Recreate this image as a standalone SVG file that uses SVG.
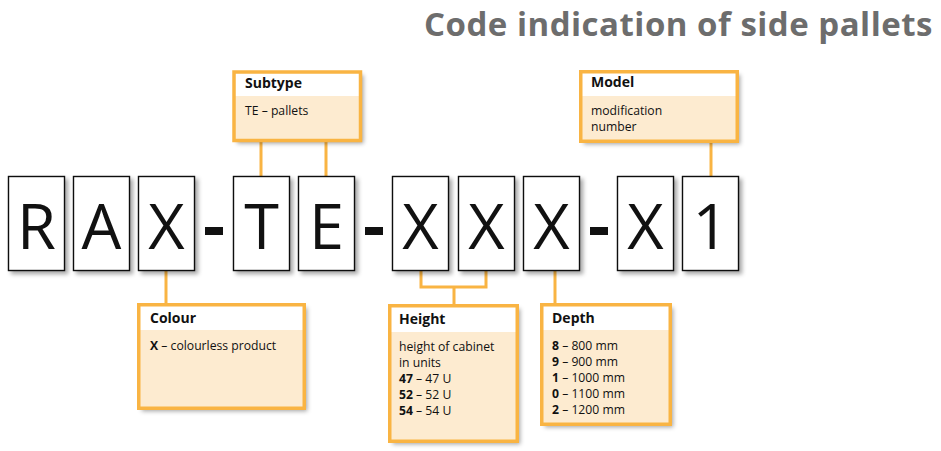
<svg xmlns="http://www.w3.org/2000/svg" width="941" height="451" viewBox="0 0 941 451">
<defs>
<filter id="sh" x="-20%" y="-20%" width="150%" height="150%">
<feDropShadow dx="3" dy="3" stdDeviation="2" flood-color="#000" flood-opacity="0.35"/>
</filter>
<style>
.title{font-family:"Open Sans","Noto Sans",sans-serif;font-weight:bold;font-size:33px;letter-spacing:0.5px;fill:#6d6d6d}
.lb{fill:#fff;stroke:#111;stroke-width:1.4}
.lt{font-family:"Open Sans","Noto Sans",sans-serif;font-size:63px;fill:#111;text-anchor:middle}
.dash{fill:#111}
.bf{fill:#fdebd0}
.hd{fill:#fff}
.bs{fill:none;stroke:#f9b443;stroke-width:3.5}
.ht{font-family:"Open Sans","Noto Sans",sans-serif;font-weight:bold;font-size:14px;fill:#111}
.bt{font-family:"Open Sans","Noto Sans",sans-serif;font-size:12.2px;fill:#111}
.con{fill:none;stroke:#f9b443;stroke-width:3}
</style>
</defs>
<text class="title" x="933" y="35.5" text-anchor="end">Code indication of side pallets</text>

<g id="connectors">
<path class="con" d="M261 142V176M326 142V176"/>
<path class="con" d="M711 143V176"/>
<path class="con" d="M166 271V303"/>
<path class="con" d="M421 271V287H486V271M454 287V304"/>
<path class="con" d="M555 271V303"/>
</g>

<g id="code">
<g id="c-R"><rect class="lb" x="8.5" y="176.5" width="56" height="94" filter="url(#sh)"/><text class="lt" x="36.5" y="249">R</text></g>
<g id="c-A"><rect class="lb" x="73.5" y="176.5" width="56" height="94" filter="url(#sh)"/><text class="lt" x="101.5" y="249">A</text></g>
<g id="c-X1"><rect class="lb" x="138.5" y="176.5" width="56" height="94" filter="url(#sh)"/><text class="lt" x="166.5" y="249">X</text></g>
<rect class="dash" x="205" y="227" width="18" height="8"/>
<g id="c-T"><rect class="lb" x="233.5" y="176.5" width="56" height="94" filter="url(#sh)"/><text class="lt" x="261.5" y="249">T</text></g>
<g id="c-E"><rect class="lb" x="298.5" y="176.5" width="56" height="94" filter="url(#sh)"/><text class="lt" x="326.5" y="249">E</text></g>
<rect class="dash" x="365" y="227" width="18" height="8"/>
<g id="c-X2"><rect class="lb" x="392.5" y="176.5" width="56" height="94" filter="url(#sh)"/><text class="lt" x="420.5" y="249">X</text></g>
<g id="c-X3"><rect class="lb" x="458.5" y="176.5" width="56" height="94" filter="url(#sh)"/><text class="lt" x="486.5" y="249">X</text></g>
<g id="c-X4"><rect class="lb" x="523.5" y="176.5" width="56" height="94" filter="url(#sh)"/><text class="lt" x="551.5" y="249">X</text></g>
<rect class="dash" x="590" y="227" width="18" height="8"/>
<g id="c-X5"><rect class="lb" x="617.5" y="176.5" width="56" height="94" filter="url(#sh)"/><text class="lt" x="645.5" y="249">X</text></g>
<g id="c-1"><rect class="lb" x="682.5" y="176.5" width="56" height="94" filter="url(#sh)"/><text class="lt" x="710.5" y="249">1</text></g>
</g>

<g id="subtype">
<rect class="bf" x="234" y="72" width="126.5" height="68.5" filter="url(#sh)"/>
<rect class="hd" x="234" y="72" width="126.5" height="24"/>
<rect class="bs" x="234" y="72" width="126.5" height="68.5"/>
<text class="ht" x="245" y="88">Subtype</text>
<text class="bt" x="245" y="115">TE – pallets</text>
</g>

<g id="model">
<rect class="bf" x="580.75" y="71.75" width="156.5" height="69.5" filter="url(#sh)"/>
<rect class="hd" x="580.75" y="71.75" width="156.5" height="24.25"/>
<rect class="bs" x="580.75" y="71.75" width="156.5" height="69.5"/>
<text class="ht" x="591" y="87">Model</text>
<text class="bt" x="591" y="115">modification</text>
<text class="bt" x="591" y="131">number</text>
</g>

<g id="colour">
<rect class="bf" x="138.75" y="304.75" width="165.5" height="103.5" filter="url(#sh)"/>
<rect class="hd" x="138.75" y="304.75" width="165.5" height="25.25"/>
<rect class="bs" x="138.75" y="304.75" width="165.5" height="103.5"/>
<text class="ht" x="150" y="323">Colour</text>
<text class="bt" x="150" y="350"><tspan font-weight="bold">X</tspan> – colourless product</text>
</g>

<g id="height">
<rect class="bf" x="389.75" y="305.75" width="127.5" height="135.5" filter="url(#sh)"/>
<rect class="hd" x="389.75" y="305.75" width="127.5" height="26.25"/>
<rect class="bs" x="389.75" y="305.75" width="127.5" height="135.5"/>
<text class="ht" x="399" y="324">Height</text>
<text class="bt" x="399" y="351">height of cabinet</text>
<text class="bt" x="399" y="367">in units</text>
<text class="bt" x="399" y="383"><tspan font-weight="bold">47</tspan> – 47 U</text>
<text class="bt" x="399" y="399"><tspan font-weight="bold">52</tspan> – 52 U</text>
<text class="bt" x="399" y="415"><tspan font-weight="bold">54</tspan> – 54 U</text>
</g>

<g id="depth">
<rect class="bf" x="541.75" y="304.75" width="128.5" height="119.5" filter="url(#sh)"/>
<rect class="hd" x="541.75" y="304.75" width="128.5" height="25.25"/>
<rect class="bs" x="541.75" y="304.75" width="128.5" height="119.5"/>
<text class="ht" x="552" y="323">Depth</text>
<text class="bt" x="552" y="350"><tspan font-weight="bold">8</tspan> – 800 mm</text>
<text class="bt" x="552" y="366"><tspan font-weight="bold">9</tspan> – 900 mm</text>
<text class="bt" x="552" y="382"><tspan font-weight="bold">1</tspan> – 1000 mm</text>
<text class="bt" x="552" y="398"><tspan font-weight="bold">0</tspan> – 1100 mm</text>
<text class="bt" x="552" y="414"><tspan font-weight="bold">2</tspan> – 1200 mm</text>
</g>
</svg>
